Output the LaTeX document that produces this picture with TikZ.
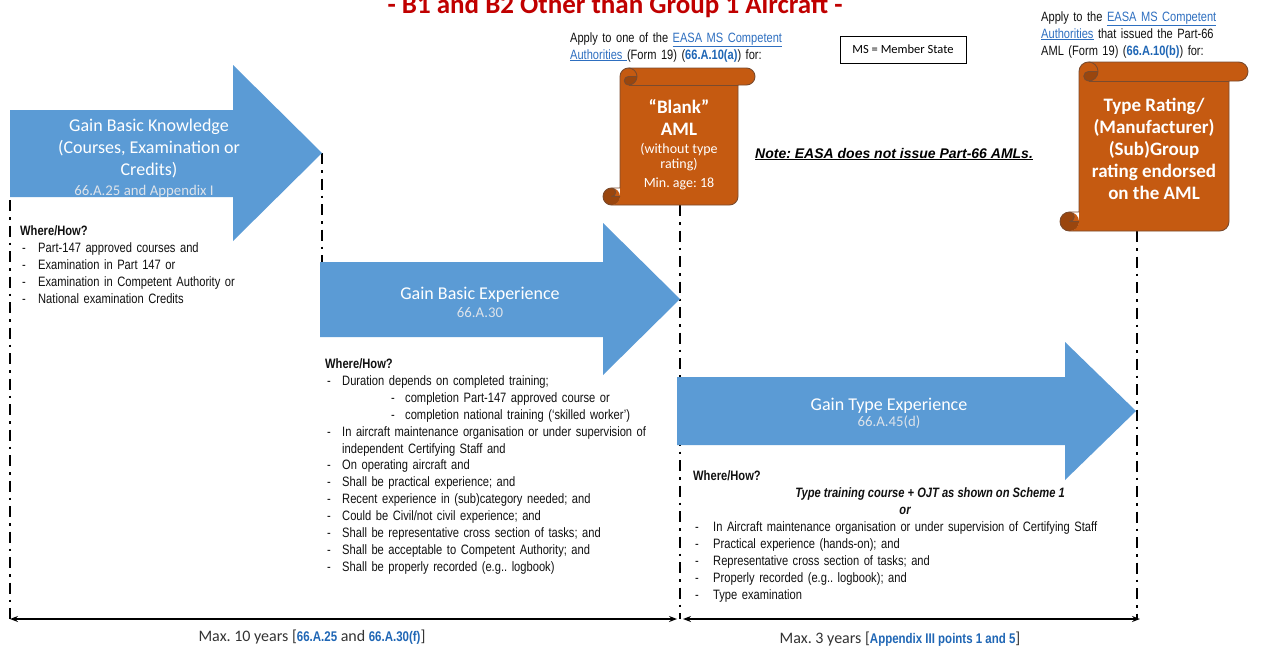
\documentclass[tikz,border=0pt]{standalone}
\usepackage{fontspec}
\setmainfont{Carlito}
\newfontfamily\narrowfont[FakeStretch=0.82]{Liberation Sans}
\newfontfamily\arialfont{Liberation Sans}
\usetikzlibrary{arrows.meta}
\definecolor{arrowblue}{HTML}{5B9BD5}
\definecolor{scrollorange}{HTML}{C55A11}
\definecolor{scrolldark}{HTML}{9A460E}
\definecolor{scrolledge}{HTML}{7A4B2E}
\definecolor{titlered}{HTML}{C00000}
\definecolor{linkblue}{HTML}{2E6FC0}
\definecolor{refblue}{HTML}{1F66B5}
\definecolor{reftext}{HTML}{DDE3EA}
\definecolor{bodytext}{HTML}{111111}
\definecolor{labeltext}{HTML}{333333}
\frenchspacing
\newcommand{\dashitem}[2][16pt]{\makebox[#1][l]{-}#2}
\newcommand{\linkref}[1]{\textcolor{linkblue}{\underline{#1}}}
\newcommand{\secref}[1]{\textcolor{refblue}{\bfseries #1}}
\newcommand{\amlscroll}[5]{%
  \pgfmathsetmacro{\scrL}{#1}%
  \pgfmathsetmacro{\scrT}{#2}%
  \pgfmathsetmacro{\scrR}{#3}%
  \pgfmathsetmacro{\scrB}{#4}%
  \pgfmathsetmacro{\scrC}{#5}%
  \pgfmathsetmacro{\scrH}{#5/2}%
  \pgfmathsetmacro{\scrQ}{#5/4}%
  \fill[scrollorange] (\scrL+\scrH,\scrB) arc[start angle=90,delta angle=-90,radius=\scrH]
    -- (\scrL+\scrC,\scrT+\scrH) arc[start angle=180,delta angle=90,radius=\scrH]
    -- (\scrR-\scrH,\scrT) arc[start angle=270,delta angle=180,radius=\scrH]
    -- (\scrR-\scrC,\scrT+\scrC) -- (\scrR-\scrC,\scrB-\scrH)
    arc[start angle=0,delta angle=90,radius=\scrH] -- cycle;
  \fill[scrollorange] (\scrL+\scrH,\scrB-\scrH) circle[radius=\scrH];
  \fill[scrolldark] (\scrL+2*\scrC,\scrT+\scrH) arc[start angle=0,delta angle=90,radius=\scrH]
    arc[start angle=90,delta angle=180,radius=\scrQ] -- cycle;
  \fill[scrolldark] (\scrL+\scrC,\scrB-\scrH) arc[start angle=0,delta angle=270,radius=\scrH]
    arc[start angle=270,delta angle=180,radius=\scrQ] -- cycle;
  \draw[scrolloutline] (\scrL+\scrC,\scrB-\scrC) -- (\scrL+\scrC,\scrT+\scrH)
    arc[start angle=180,delta angle=90,radius=\scrH]
    -- (\scrR-\scrH,\scrT) arc[start angle=270,delta angle=180,radius=\scrH]
    -- (\scrR-\scrC,\scrT+\scrC) -- (\scrR-\scrC,\scrB-\scrH)
    arc[start angle=0,delta angle=90,radius=\scrH]
    -- (\scrL+\scrH,\scrB) arc[start angle=90,delta angle=180,radius=\scrH] -- cycle;
  \draw[scrolloutline] (\scrL+\scrC+\scrH,\scrT) arc[start angle=270,delta angle=180,radius=\scrH]
    arc[start angle=90,delta angle=180,radius=\scrQ] -- (\scrL+2*\scrC,\scrT+\scrH);
  \draw[scrolloutline] (\scrR-\scrC,\scrT+\scrC) -- (\scrL+\scrC+\scrH,\scrT+\scrC);
  \draw[scrolloutline] (\scrL+\scrH,\scrB-\scrC) arc[start angle=270,delta angle=180,radius=\scrQ]
    -- (\scrL+\scrC,\scrB-\scrH);
}
\tikzset{
  flow/.style={fill=arrowblue, draw=none},
  scrolloutline/.style={draw=scrolledge, line width=0.9pt, line join=round},
  arrowtitle/.style={anchor=base, inner sep=0pt, text=white, font=\fontsize{18}{22}\selectfont},
  arrowref/.style={anchor=base, inner sep=0pt, text=reftext, font=\fontsize{14.8}{17}\selectfont},
  scrollbig/.style={anchor=base, inner sep=0pt, text=white, font=\bfseries\fontsize{19}{22}\selectfont},
  scrollsmall/.style={anchor=base, inner sep=0pt, text=white, font=\fontsize{14}{16}\selectfont},
  listblock/.style={anchor=base west, inner sep=0pt, text=bodytext, align=left, text width=600pt,
    font=\narrowfont\fontsize{13.6}{17}\selectfont},
  applytext/.style={anchor=base west, inner sep=0pt, text=bodytext, align=left, text width=260pt,
    font=\narrowfont\fontsize{13.5}{17}\selectfont},
  milestone/.style={draw=black, line width=2.5pt, dash pattern=on 11pt off 6pt on 2.5pt off 6pt},
  spanline/.style={draw=black, line width=1.3pt, {Stealth[length=8pt,width=6pt]}-{Stealth[length=8pt,width=6pt]}},
  spanlabel/.style={anchor=base, inner sep=0pt, text=labeltext, font=\fontsize{16}{19}\selectfont}
}
\begin{document}
\begin{tikzpicture}[x=1pt,y=-1pt]
\useasboundingbox (0,0) rectangle (1263,653);
\fill[white] (0,0) rectangle (1263,653);

% title (its top is cut off by the page edge, as in the original)
\node[anchor=base, inner sep=0pt, text=titlered, font=\bfseries\fontsize{27}{30}\selectfont] (title) at (615,13) {- B1 and B2 Other than Group 1 Aircraft -};

% milestone coordinates
\coordinate (m1top) at (10,200);
\coordinate (m1bot) at (10,619);
\coordinate (m2top) at (322,153);
\coordinate (m2bot) at (322,262);
\coordinate (m3top) at (680,205);
\coordinate (m3bot) at (680,619);
\coordinate (m4top) at (1137,231);
\coordinate (m4bot) at (1137,619);

% dash-dot milestone lines (behind the arrows)
\draw[milestone] (m1top) -- (m1bot);
\draw[milestone] (m2top) -- (m2bot);
\draw[milestone] (m3top) -- (m3bot);
\draw[milestone] (m4top) -- (m4bot);

% arrow 1
\fill[flow] (10,110) -- (233,110) -- (233,65) -- (322,153) -- (233,241) -- (233,197) -- (10,197) -- cycle;
\node[arrowtitle] (gbk1) at (149,131) {Gain Basic Knowledge};
\node[arrowtitle] (gbk2) at (149,153) {(Courses, Examination or};
\node[arrowtitle] (gbk3) at (149,175) {Credits)};
\node[arrowref] (gbkref) at (144,195) {66.A.25 and Appendix I};

% arrow 2
\fill[flow] (320,262) -- (603,262) -- (603,223) -- (680,299) -- (603,375) -- (603,337) -- (320,337) -- cycle;
\node[arrowtitle] (gbe1) at (480,299) {Gain Basic Experience};
\node[arrowref] (gberef) at (480,317) {66.A.30};

% arrow 3
\fill[flow] (677,377) -- (1065,377) -- (1065,342) -- (1136,411) -- (1065,480) -- (1065,445) -- (677,445) -- cycle;
\node[arrowtitle] (gte1) at (889,410) {Gain Type Experience};
\node[arrowref] (gteref) at (889,426) {66.A.45(d)};

% scrolls
\amlscroll{603}{68}{755}{205}{17}
\node[scrollbig] (bl1) at (679,113) {“Blank”};
\node[scrollbig] (bl2) at (679,135) {AML};
\node[scrollsmall] (bl3) at (679,153) {(without type};
\node[scrollsmall] (bl4) at (679,168) {rating)};
\node[scrollsmall] (bl5) at (679,187) {Min. age: 18};

\amlscroll{1060}{62}{1248}{231}{19}
\node[scrollbig] (tr1) at (1154,111) {Type Rating/};
\node[scrollbig] (tr2) at (1154,133) {(Manufacturer)};
\node[scrollbig] (tr3) at (1154,155) {(Sub)Group};
\node[scrollbig] (tr4) at (1154,177) {rating endorsed};
\node[scrollbig] (tr5) at (1154,199) {on the AML};

% apply texts
\node[applytext] (applya) at (570,42) {Apply to one of the \linkref{EASA MS Competent}\\
\linkref{Authorities }(Form 19) (\secref{66.A.10(a)}) for:};
\node[applytext] (applyb) at (1041,21) {Apply to the \linkref{EASA MS Competent}\\
\linkref{Authorities} that issued the Part-66\\
AML (Form 19) (\secref{66.A.10(b)}) for:};

% MS box
\node[draw=black, line width=1pt, minimum width=126pt, minimum height=27pt, inner sep=0pt,
  font=\fontsize{12.5}{15}\selectfont] (msbox) at (903,49.5) {MS = Member State};

% note
\node[anchor=base west, inner sep=0pt, font=\arialfont\bfseries\itshape\fontsize{14}{17}\selectfont] (note) at (755,158) {\underline{Note: EASA does not issue Part-66 AMLs.}};

% where/how blocks
\node[listblock] (wh1) at (20,235) {\textbf{Where/How?}\\
\hspace*{2pt}\dashitem{Part-147 approved courses and}\\
\hspace*{2pt}\dashitem{Examination in Part 147 or}\\
\hspace*{2pt}\dashitem{Examination in Competent Authority or}\\
\hspace*{2pt}\dashitem{National examination Credits}};

\node[listblock, font=\narrowfont\fontsize{13.6}{16.9}\selectfont] (wh2) at (325,368.5) {\textbf{Where/How?}\\
\hspace*{2pt}\dashitem[15pt]{Duration depends on completed training;}\\
\hspace*{66pt}\dashitem[14pt]{completion Part-147 approved course or}\\
\hspace*{66pt}\dashitem[14pt]{completion national training (‘skilled worker’)}\\
\hspace*{2pt}\dashitem[15pt]{In aircraft maintenance organisation or under supervision of}\\
\hspace*{17pt}independent Certifying Staff and\\
\hspace*{2pt}\dashitem[15pt]{On operating aircraft and}\\
\hspace*{2pt}\dashitem[15pt]{Shall be practical experience; and}\\
\hspace*{2pt}\dashitem[15pt]{Recent experience in (sub)category needed; and}\\
\hspace*{2pt}\dashitem[15pt]{Could be Civil/not civil experience; and}\\
\hspace*{2pt}\dashitem[15pt]{Shall be representative cross section of tasks; and}\\
\hspace*{2pt}\dashitem[15pt]{Shall be acceptable to Competent Authority; and}\\
\hspace*{2pt}\dashitem[15pt]{Shall be properly recorded (e.g.. logbook)}};

\node[listblock] (wh3) at (693,480.5) {\textbf{Where/How?}};
\node[anchor=base, inner sep=0pt, text=bodytext, font=\narrowfont\bfseries\itshape\fontsize{13.6}{17}\selectfont] (wh3a) at (930,497) {Type training course + OJT as shown on Scheme 1};
\node[anchor=base, inner sep=0pt, text=bodytext, font=\narrowfont\bfseries\itshape\fontsize{13.6}{17}\selectfont] (wh3b) at (905,514) {or};
\node[listblock] (wh3c) at (695,531) {\dashitem[18pt]{In Aircraft maintenance organisation or under supervision of Certifying Staff}\\
\dashitem[18pt]{Practical experience (hands-on); and}\\
\dashitem[18pt]{Representative cross section of tasks; and}\\
\dashitem[18pt]{Properly recorded (e.g.. logbook); and}\\
\dashitem[18pt]{Type examination}};

% span arrows
\coordinate (s1a) at (10,619);
\coordinate (s1b) at (677,619);
\coordinate (s2a) at (683,619);
\coordinate (s2b) at (1140,619);
\draw[spanline] (s1a) -- (s1b);
\draw[spanline] (s2a) -- (s2b);
\node[spanlabel] (lab1) at (312,641) {Max. 10 years [{\narrowfont\secref{\fontsize{14}{16}\selectfont 66.A.25}} and {\narrowfont\secref{\fontsize{14}{16}\selectfont 66.A.30(f)}}]};
\node[spanlabel] (lab2) at (900,643) {Max. 3 years [{\narrowfont\secref{\fontsize{14}{16}\selectfont Appendix III points 1 and 5}}]};
\end{tikzpicture}
\end{document}
